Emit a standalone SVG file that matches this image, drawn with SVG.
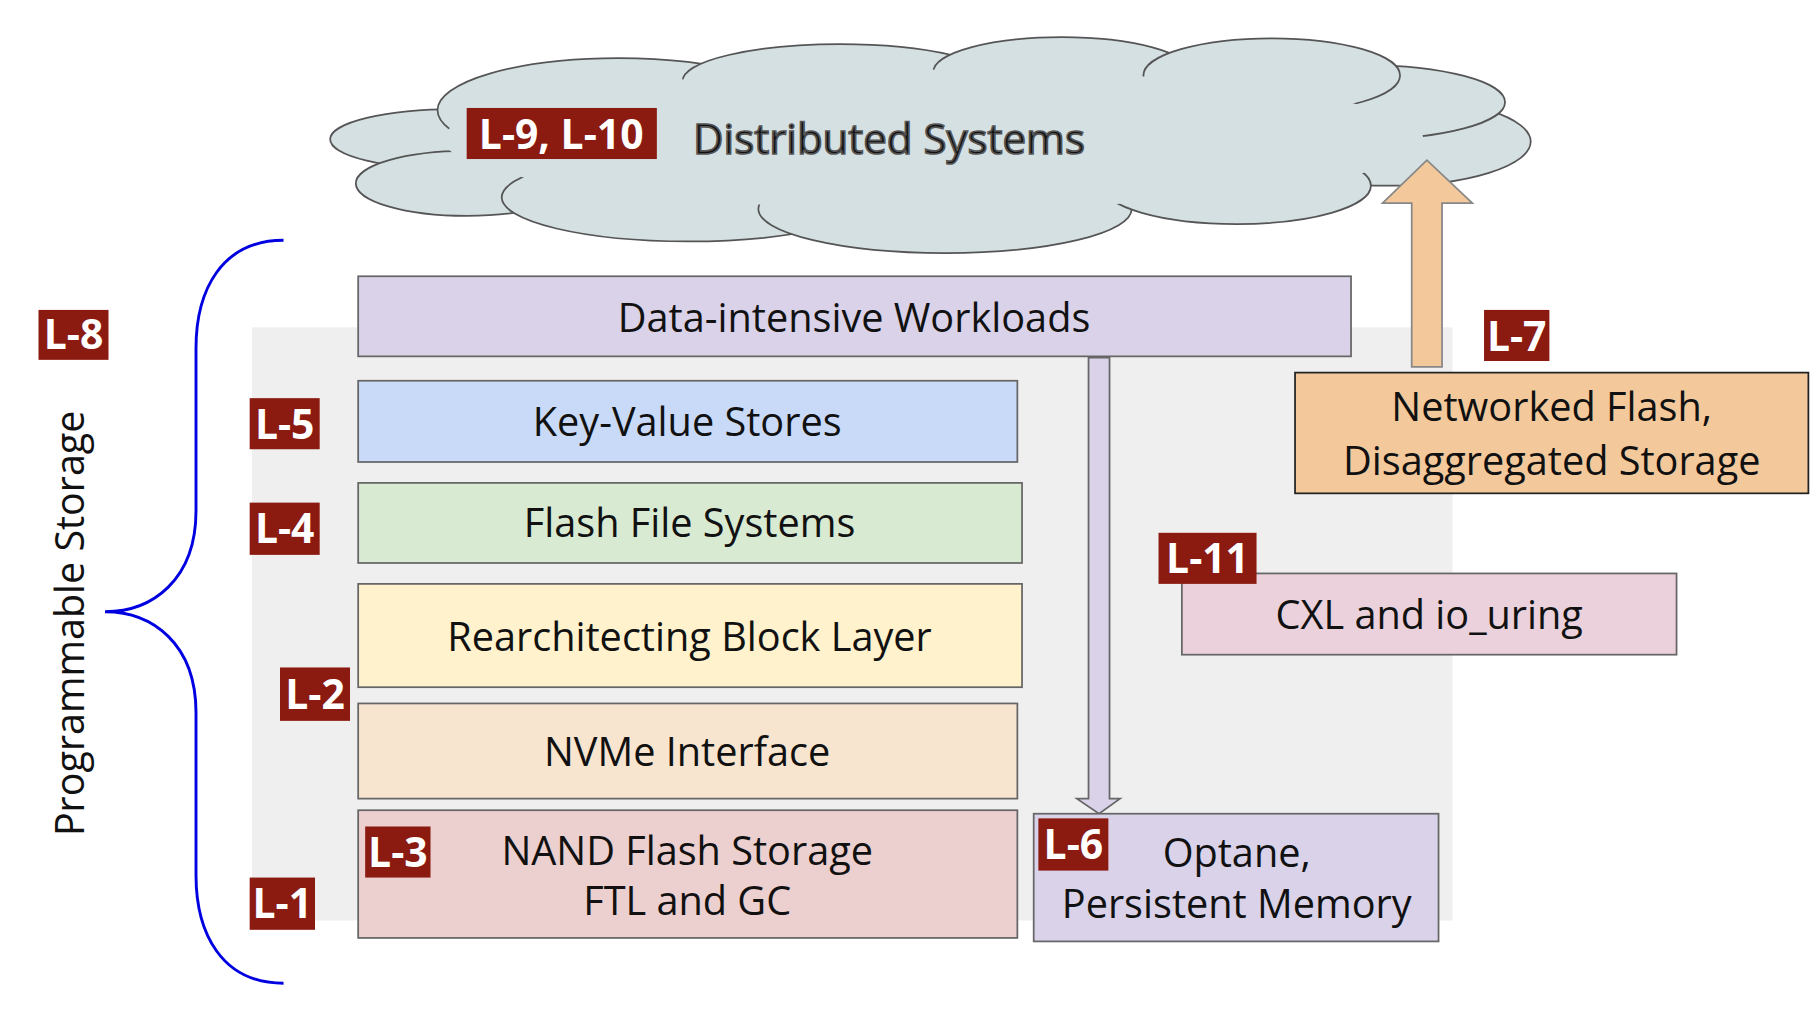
<svg xmlns="http://www.w3.org/2000/svg" width="1820" height="1018" viewBox="0 0 1820 1018">
<style>
.t{font-family:"Open Sans","Liberation Sans",sans-serif;font-size:34px;fill:#111;text-anchor:middle}
.lb{fill:#8b1a10}
.lt{font-family:"Open Sans","Liberation Sans",sans-serif;font-size:35px;font-weight:bold;fill:#fff;text-anchor:middle}
.bx{stroke:#666;stroke-width:1.5}
</style>
<rect width="1820" height="1018" fill="#fff"/>
<g transform="scale(1.1667 1.1608)">
<rect x="216" y="282" width="1029" height="511" fill="#efefef"/>
<g id="cloud" fill="#d5e0e3" stroke="#555" stroke-width="1.5">
<ellipse cx="390" cy="120" rx="107" ry="26"/>
<ellipse cx="400" cy="158" rx="95" ry="28"/>
<ellipse cx="1190" cy="122" rx="122" ry="38"/>
<ellipse cx="1170" cy="88" rx="120" ry="32"/>
<ellipse cx="530" cy="95" rx="155" ry="45"/>
<ellipse cx="720" cy="70" rx="135" ry="32"/>
<ellipse cx="910" cy="62" rx="110" ry="30"/>
<ellipse cx="1090" cy="65" rx="110" ry="32"/>
<ellipse cx="590" cy="170" rx="160" ry="38"/>
<ellipse cx="810" cy="180" rx="160" ry="38"/>
<ellipse cx="1060" cy="160" rx="115" ry="33"/>
<ellipse cx="800" cy="120" rx="420" ry="60" stroke="none"/>
<text class="t" x="762" y="133" style="font-size:36px">Distributed Systems</text>
</g>
<g id="connectors">
<path d="M1210 316V175H1185L1223 138L1262 175H1236V316Z" fill="#f3c99c" stroke="#888" stroke-width="1.5"/>
<path d="M933 308V688H923L942 701L960 688H951V308Z" fill="#d9d2e9" stroke="#666" stroke-width="1.5"/>
<path d="M243 207C190 207 168 250 168 300V440C168 500 130 527 90 527C130 527 168 554 168 614V754C168 804 190 847 243 847" fill="none" stroke="#0000e0" stroke-width="2.5"/>
</g>
<text class="t" transform="translate(72 537) rotate(-90)">Programmable Storage</text>
<g id="n-dw"><rect class="bx" x="307" y="238" width="851" height="69" fill="#d9d2e9"/><text class="t" x="732" y="286">Data-intensive Workloads</text></g>
<g id="n-kv"><rect class="bx" x="307" y="328" width="565" height="70" fill="#c9daf8"/><text class="t" x="589" y="376">Key-Value Stores</text></g>
<g id="n-fs"><rect class="bx" x="307" y="416" width="569" height="69" fill="#d9ead3"/><text class="t" x="591" y="463">Flash File Systems</text></g>
<g id="n-bl"><rect class="bx" x="307" y="503" width="569" height="89" fill="#fff2cc"/><text class="t" x="591" y="561">Rearchitecting Block Layer</text></g>
<g id="n-nv"><rect class="bx" x="307" y="606" width="565" height="82" fill="#f8e5d0"/><text class="t" x="589" y="660">NVMe Interface</text></g>
<g id="n-nand"><rect class="bx" x="307" y="698" width="565" height="110" fill="#eccfcf"/><text class="t" x="589" y="745">NAND Flash Storage</text><text class="t" x="589" y="788">FTL and GC</text></g>
<g id="n-opt"><rect class="bx" x="886" y="701" width="347" height="110" fill="#d9d2e9"/><text class="t" x="1060" y="747">Optane,</text><text class="t" x="1060" y="791">Persistent Memory</text></g>
<g id="n-cxl"><rect class="bx" x="1013" y="494" width="424" height="70" fill="#ead1dc"/><text class="t" x="1225" y="542">CXL and io_uring</text></g>
<g id="n-net"><rect x="1110" y="321" width="440" height="104" fill="#f3c99c" stroke="#222" stroke-width="1.5"/><text class="t" x="1330" y="363">Networked Flash,</text><text class="t" x="1330" y="409">Disaggregated Storage</text></g>
<g id="labels">
<rect class="lb" x="400" y="93" width="163" height="44"/><text class="lt" x="481" y="128">L-9, L-10</text>
<rect class="lb" x="33" y="267" width="60" height="43"/><text class="lt" x="63" y="301">L-8</text>
<rect class="lb" x="214" y="343" width="60" height="44"/><text class="lt" x="244" y="378">L-5</text>
<rect class="lb" x="214" y="433" width="60" height="45"/><text class="lt" x="244" y="468">L-4</text>
<rect class="lb" x="240" y="575" width="60" height="46"/><text class="lt" x="270" y="611">L-2</text>
<rect class="lb" x="214" y="756" width="56" height="45"/><text class="lt" x="242" y="791">L-1</text>
<rect class="lb" x="313" y="712" width="56" height="44"/><text class="lt" x="341" y="747">L-3</text>
<rect class="lb" x="890" y="705" width="60" height="45"/><text class="lt" x="920" y="740">L-6</text>
<rect class="lb" x="993" y="459" width="84" height="44"/><text class="lt" x="1035" y="494">L-11</text>
<rect class="lb" x="1272" y="267" width="56" height="44"/><text class="lt" x="1300" y="302">L-7</text>
</g>
</g>
</svg>
